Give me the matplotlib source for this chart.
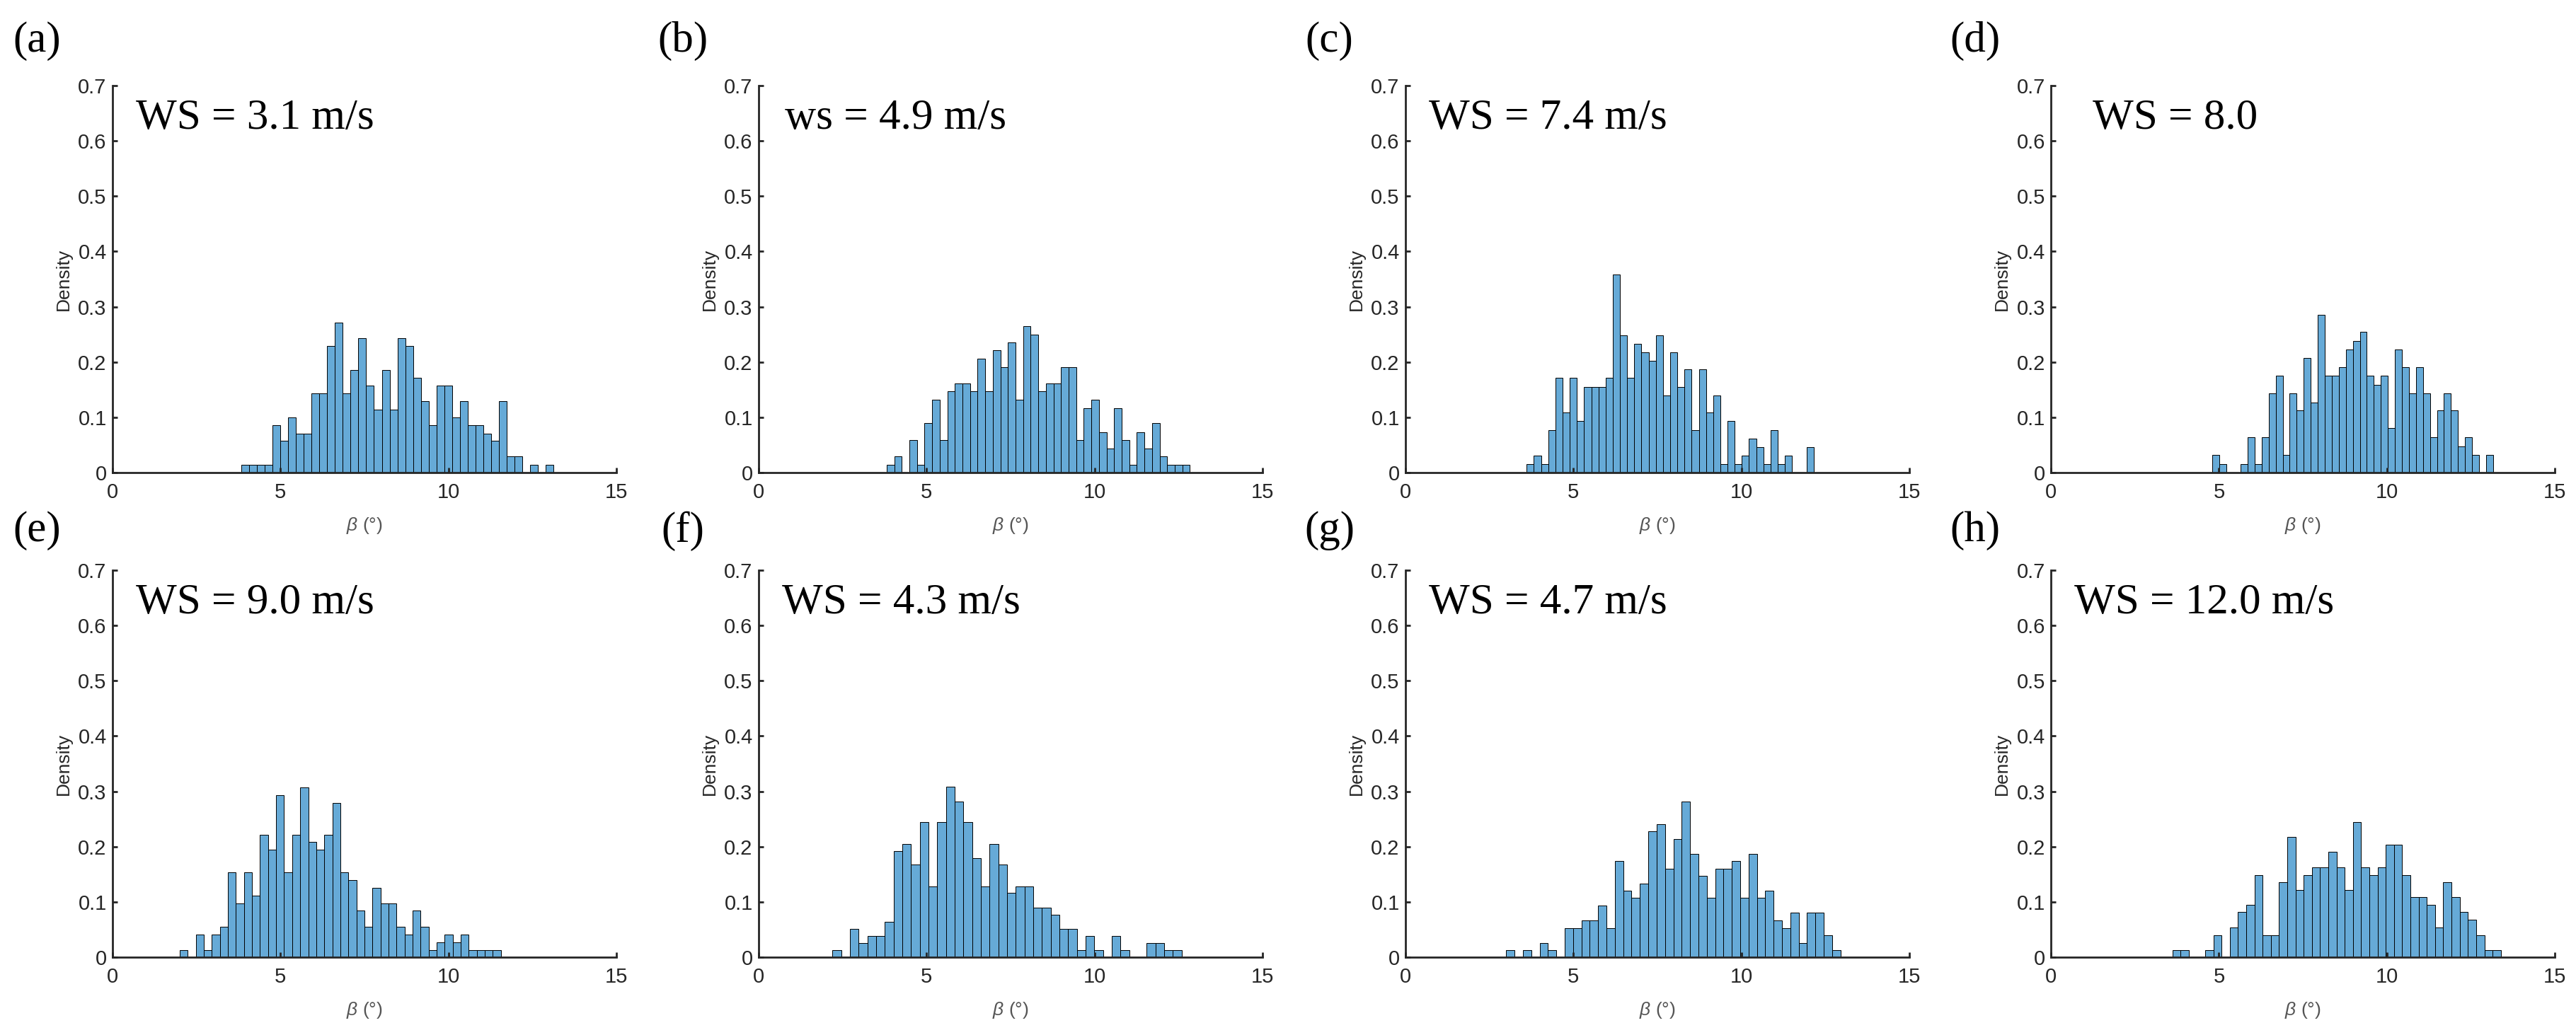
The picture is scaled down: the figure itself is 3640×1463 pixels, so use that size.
# Histograms of beta for eight wind-speed cases (2 x 4 panels).

import numpy as np
from matplotlib import pyplot as plt

# Data
#----------------------------------------------------

PANELS = ["(a)", "(b)", "(c)", "(d)", "(e)", "(f)", "(g)", "(h)"]
WS_TEXT = ["WS = 3.1 m/s", "ws = 4.9 m/s", "WS = 7.4 m/s", "WS = 8.0",
           "WS = 9.0 m/s", "WS = 4.3 m/s", "WS = 4.7 m/s", "WS = 12.0 m/s"]

# first and last bin edge of each histogram (40 bins each)
BIN_LO = [3.83, 3.81, 3.61, 4.81, 2.00, 2.20, 3.00, 3.61]
BIN_HI = [13.13, 12.84, 12.15, 13.16, 11.56, 12.59, 12.95, 13.39]

dens_a = [0.014, 0.014, 0.014, 0.014, 0.086, 0.057, 0.100, 0.071, 0.071, 0.143,
          0.143, 0.229, 0.271, 0.143, 0.186, 0.243, 0.157, 0.114, 0.186, 0.114,
          0.243, 0.229, 0.171, 0.129, 0.086, 0.157, 0.157, 0.100, 0.129, 0.086,
          0.086, 0.071, 0.057, 0.129, 0.029, 0.029, 0.000, 0.014, 0.000, 0.014]
dens_b = [0.014, 0.029, 0.000, 0.059, 0.014, 0.089, 0.132, 0.059, 0.147, 0.161,
          0.161, 0.147, 0.206, 0.147, 0.221, 0.191, 0.235, 0.132, 0.265, 0.250,
          0.147, 0.161, 0.161, 0.191, 0.191, 0.059, 0.117, 0.132, 0.073, 0.044,
          0.117, 0.059, 0.014, 0.073, 0.044, 0.089, 0.029, 0.014, 0.014, 0.014]
dens_c = [0.015, 0.031, 0.015, 0.077, 0.171, 0.109, 0.171, 0.093, 0.155, 0.155,
          0.155, 0.171, 0.358, 0.248, 0.171, 0.233, 0.218, 0.202, 0.248, 0.139,
          0.218, 0.155, 0.187, 0.077, 0.187, 0.109, 0.139, 0.015, 0.093, 0.015,
          0.031, 0.062, 0.046, 0.015, 0.077, 0.015, 0.031, 0.000, 0.000, 0.046]
dens_d = [0.032, 0.016, 0.000, 0.000, 0.016, 0.064, 0.016, 0.064, 0.143, 0.175,
          0.032, 0.143, 0.112, 0.207, 0.127, 0.286, 0.175, 0.175, 0.191, 0.223,
          0.238, 0.255, 0.175, 0.159, 0.175, 0.080, 0.223, 0.191, 0.143, 0.191,
          0.143, 0.064, 0.112, 0.143, 0.112, 0.047, 0.064, 0.032, 0.000, 0.032]
dens_e = [0.013, 0.000, 0.041, 0.013, 0.041, 0.055, 0.153, 0.097, 0.153, 0.111,
          0.222, 0.195, 0.293, 0.153, 0.222, 0.307, 0.209, 0.195, 0.222, 0.279,
          0.153, 0.139, 0.084, 0.055, 0.125, 0.097, 0.097, 0.055, 0.041, 0.084,
          0.055, 0.013, 0.027, 0.041, 0.027, 0.041, 0.013, 0.013, 0.013, 0.013]
dens_f = [0.013, 0.000, 0.051, 0.026, 0.038, 0.038, 0.064, 0.192, 0.205, 0.167,
          0.244, 0.128, 0.244, 0.308, 0.282, 0.244, 0.179, 0.128, 0.205, 0.167,
          0.116, 0.128, 0.128, 0.090, 0.090, 0.077, 0.051, 0.051, 0.013, 0.038,
          0.013, 0.000, 0.038, 0.013, 0.000, 0.000, 0.026, 0.026, 0.013, 0.013]
dens_g = [0.013, 0.000, 0.013, 0.000, 0.026, 0.013, 0.000, 0.053, 0.053, 0.067,
          0.067, 0.094, 0.053, 0.174, 0.120, 0.107, 0.133, 0.228, 0.241, 0.160,
          0.214, 0.281, 0.187, 0.147, 0.107, 0.160, 0.160, 0.174, 0.107, 0.187,
          0.107, 0.120, 0.067, 0.053, 0.080, 0.026, 0.080, 0.080, 0.040, 0.013]
dens_h = [0.013, 0.013, 0.000, 0.000, 0.013, 0.040, 0.000, 0.054, 0.082, 0.095,
          0.149, 0.040, 0.040, 0.136, 0.218, 0.122, 0.149, 0.162, 0.162, 0.191,
          0.162, 0.122, 0.244, 0.162, 0.149, 0.162, 0.203, 0.203, 0.149, 0.109,
          0.109, 0.095, 0.054, 0.136, 0.109, 0.082, 0.068, 0.040, 0.013, 0.013]

DENSITIES = [dens_a, dens_b, dens_c, dens_d, dens_e, dens_f, dens_g, dens_h]

# Layout / style
#----------------------------------------------------

BAR_COLOR = (0.4, 0.668, 0.845)     # matlab default blue at FaceAlpha 0.6
AX_COLOR = "#262626"
COL_LEFT = [0.0437, 0.2945, 0.5456, 0.7962]
ROW_BOTTOM = [0.5434, 0.0752]
AX_W, AX_H = 0.1956, 0.3739
WS_X = [0.046, 0.052, 0.046, 0.083, 0.046, 0.046, 0.046, 0.046]

plt.rcParams["font.family"] = ["Liberation Sans", "DejaVu Sans"]
plt.rcParams["mathtext.fontset"] = "custom"
plt.rcParams["mathtext.it"] = "Liberation Sans:italic"
plt.rcParams["mathtext.rm"] = "Liberation Sans"

fig = plt.figure(figsize=(18.2, 7.315), dpi=200)

for i in range(8):
    row, col = divmod(i, 4)
    ax = fig.add_axes([COL_LEFT[col], ROW_BOTTOM[row], AX_W, AX_H])
    dens = np.array(DENSITIES[i])
    edges = np.linspace(BIN_LO[i], BIN_HI[i], len(dens) + 1)
    ax.bar(edges[:-1], dens, width=np.diff(edges), align="edge",
           color=BAR_COLOR, edgecolor="black", linewidth=0.35)

    ax.set_xlim(0, 15)
    ax.set_ylim(0, 0.7)
    ax.set_xticks([0, 5, 10, 15])
    ax.set_yticks(np.arange(0, 0.71, 0.1))
    ax.set_yticklabels(["0", "0.1", "0.2", "0.3", "0.4", "0.5", "0.6", "0.7"])
    for s in ["top", "right"]:
        ax.spines[s].set_visible(False)
    for s in ["left", "bottom"]:
        ax.spines[s].set_linewidth(1.0)
        ax.spines[s].set_color(AX_COLOR)
    ax.tick_params(direction="in", length=2.5, width=1.0, color=AX_COLOR,
                   labelsize=10.5, labelcolor=AX_COLOR, pad=3)
    ax.tick_params(axis="x", pad=5)

    ax.set_ylabel("Density", fontsize=9.5, color=AX_COLOR, labelpad=3)
    ax.set_xlabel(r"$\beta$ (°)", fontsize=9.5, color="#555555", labelpad=7)

    ax.text(WS_X[i], 0.888, WS_TEXT[i], transform=ax.transAxes,
            family=["Liberation Serif", "DejaVu Serif"], fontsize=22,
            va="baseline", ha="left", color="black")

    fig.text(COL_LEFT[col] - 0.0295, ROW_BOTTOM[row] + AX_H + 0.043 - 0.005 * row,
             PANELS[i], family=["Liberation Serif", "DejaVu Serif"],
             fontsize=22, ha="center", va="center")

fig.savefig("out.png", dpi=200, facecolor="white")
